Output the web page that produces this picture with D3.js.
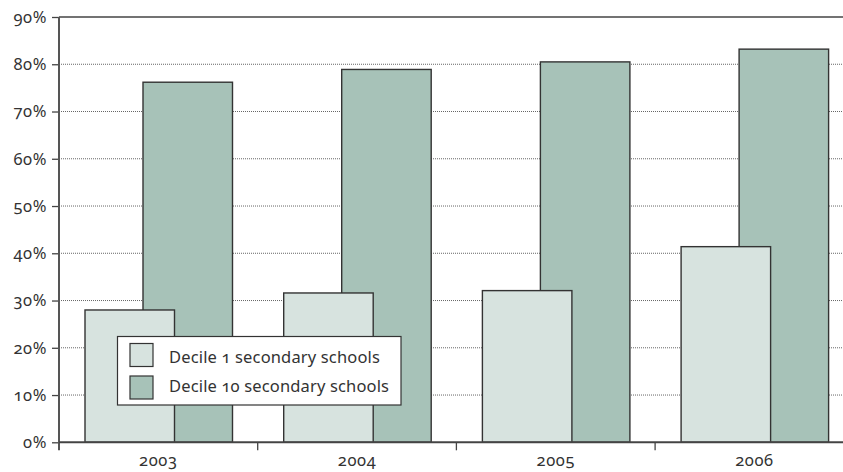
<!DOCTYPE html>
<html>
<head>
<meta charset="utf-8">
<script src="https://cdn.jsdelivr.net/npm/d3@7"></script>
<style>
  html, body { margin: 0; padding: 0; background: #fff; }
  svg text { font-family: "Noto Sans", "Open Sans", sans-serif; font-feature-settings: "onum" 1; font-variant-numeric: oldstyle-nums; fill: #333; }
</style>
</head>
<body>
<svg id="chart" width="843" height="472"></svg>
<script>
// School leaver share by year, decile 1 vs decile 10 secondary schools
const years = ["2003", "2004", "2005", "2006"];
const decile1 = [28.0, 31.6, 32.1, 41.4];
const decile10 = [76.2, 78.9, 80.5, 83.2];
const yTicks = [0, 10, 20, 30, 40, 50, 60, 70, 80, 90];
const seriesNames = ["Decile 1 secondary schools", "Decile 10 secondary schools"];
const colors = ["#d7e3df", "#a7c2b8"];

const svg = d3.select("#chart");
const W = 843;
const plotLeft = 59, plotTop = 17, plotBottom = 442.3;
const bandW = 198.7;

const x = d3.scaleBand().domain(years).range([plotLeft, plotLeft + bandW * years.length]).padding(0);
const y = d3.scaleLinear().domain([0, 90]).range([plotBottom, plotTop]);

// dotted gridlines
svg.append("g").selectAll("line").data(yTicks.filter(t => t > 0 && t < 90)).join("line")
  .attr("x1", plotLeft).attr("x2", W)
  .attr("y1", d => y(d)).attr("y2", d => y(d))
  .attr("stroke", "#666").attr("stroke-width", 1).attr("stroke-dasharray", "1,1");

// bars: decile 10 behind, decile 1 overlapping in front
const bw = x.bandwidth();
const lightOff = 26 / 198.7, darkOff = 84 / 198.7, barFrac = 89.5 / 198.7;

svg.append("g").selectAll("rect").data(years).join("rect")
  .attr("x", (d) => x(d) + bw * darkOff)
  .attr("width", bw * barFrac)
  .attr("y", (d, i) => y(decile10[i]))
  .attr("height", (d, i) => y(0) - y(decile10[i]))
  .attr("fill", colors[1]).attr("stroke", "#333").attr("stroke-width", 1.4);

svg.append("g").selectAll("rect").data(years).join("rect")
  .attr("x", (d) => x(d) + bw * lightOff)
  .attr("width", bw * barFrac)
  .attr("y", (d, i) => y(decile1[i]))
  .attr("height", (d, i) => y(0) - y(decile1[i]))
  .attr("fill", colors[0]).attr("stroke", "#333").attr("stroke-width", 1.4);

// top frame line
svg.append("line").attr("x1", plotLeft).attr("x2", W).attr("y1", y(90)).attr("y2", y(90))
  .attr("stroke", "#444").attr("stroke-width", 1.5);

// y axis
const yAxis = svg.append("g").attr("transform", `translate(${plotLeft},0)`)
  .call(d3.axisLeft(y).tickValues(yTicks).tickFormat(d => d + "%").tickSize(7).tickPadding(5));
yAxis.select(".domain").remove();
yAxis.selectAll(".tick line").attr("stroke", "#444").attr("stroke-width", 1.3);
yAxis.selectAll(".tick text").attr("font-size", 16.5).attr("letter-spacing", 0.6).attr("fill", "#333");
svg.append("line").attr("x1", plotLeft).attr("x2", plotLeft).attr("y1", plotTop).attr("y2", plotBottom + 8)
  .attr("stroke", "#555").attr("stroke-width", 2);

// x axis
const xAxis = svg.append("g").attr("transform", `translate(0,${plotBottom})`)
  .call(d3.axisBottom(x).tickSize(0).tickPadding(12));
xAxis.select(".domain").remove();
xAxis.selectAll(".tick text").attr("font-size", 16.5).attr("letter-spacing", 0.6).attr("fill", "#333");
svg.append("g").selectAll("line").data(years.slice(1)).join("line")
  .attr("x1", d => x(d)).attr("x2", d => x(d))
  .attr("y1", plotBottom).attr("y2", plotBottom + 8)
  .attr("stroke", "#444").attr("stroke-width", 1.3);
svg.append("line").attr("x1", plotLeft).attr("x2", W).attr("y1", plotBottom).attr("y2", plotBottom)
  .attr("stroke", "#444").attr("stroke-width", 2);

// legend
const lg = svg.append("g");
lg.append("rect").attr("x", 117.5).attr("y", 336.5).attr("width", 283.5).attr("height", 68.5)
  .attr("fill", "#fff").attr("stroke", "#333").attr("stroke-width", 1.2);
seriesNames.forEach((name, i) => {
  lg.append("rect").attr("x", 130).attr("y", 343.5 + i * 32.5).attr("width", 23).attr("height", 23)
    .attr("fill", colors[i]).attr("stroke", "#333").attr("stroke-width", 1.2);
  lg.append("text").attr("x", 169).attr("y", 363 + i * 28.5).attr("font-size", 16.5).attr("letter-spacing", 0.15).text(name);
});
</script>
</body>
</html>
